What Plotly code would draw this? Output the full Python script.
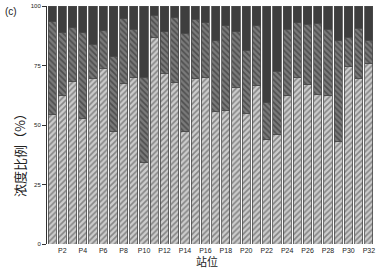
import plotly.graph_objects as go

stations = [f"P{i}" for i in range(1, 33)]
tick_labels = [f"P{i}" for i in range(2, 33, 2)]

light = [54.4, 62.4, 68.2, 52.9, 69.4, 73.7, 47.3, 67.5, 69.9, 34.4, 86.7, 71.5, 68.0, 47.3, 69.7, 69.8,
         55.6, 56.1, 65.7, 54.7, 66.6, 44.1, 46.2, 62.4, 69.9, 67.1, 62.7, 62.4, 43.2, 74.5, 69.7, 75.9]
middle = [39.0, 26.4, 22.7, 35.9, 14.5, 15.8, 31.4, 27.2, 20.3, 35.7, 9.5, 17.6, 27.1, 41.2, 24.7, 23.2,
          29.8, 35.6, 23.5, 26.8, 25.0, 15.3, 26.4, 27.8, 23.1, 25.2, 30.0, 27.9, 42.2, 12.4, 20.9, 9.8]
top = [round(100 - a - b, 1) for a, b in zip(light, middle)]

line = dict(color="#4a4a4a", width=0.8)

fig = go.Figure()
fig.add_trace(go.Bar(
    x=stations, y=light,
    marker=dict(color="#c8c8c8", line=line,
                pattern=dict(shape="/", fgcolor="#858585", bgcolor="#cccccc", size=4, solidity=0.4,
                             fillmode="replace")),
    showlegend=False))
fig.add_trace(go.Bar(
    x=stations, y=middle,
    marker=dict(color="#777777", line=line,
                pattern=dict(shape="\\", fgcolor="#4e4e4e", bgcolor="#7a7a7a", size=4, solidity=0.4,
                             fillmode="replace")),
    showlegend=False))
fig.add_trace(go.Bar(
    x=stations, y=top,
    marker=dict(color="#3e3e3e", line=line),
    showlegend=False))

W, H = 376, 270
l, r, t, b = 47, 2, 6, 26

fig.update_layout(
    barmode="stack",
    bargap=0.2,
    width=W, height=H,
    margin=dict(l=l, r=r, t=t, b=b),
    paper_bgcolor="white", plot_bgcolor="white",
    font=dict(family="Liberation Sans, Arial, sans-serif", color="#222"),
)
fig.update_xaxes(
    tickmode="array", tickvals=tick_labels, ticktext=tick_labels,
    tickfont=dict(size=7, color="#222"), ticks="", showline=False, showgrid=False,
    ticklabelstandoff=1,
)
fig.update_yaxes(
    range=[0, 100], tickvals=[0, 25, 50, 75, 100],
    tickfont=dict(size=6, color="#222"), ticks="outside", ticklen=4, tickcolor="#333",
    showline=True, linecolor="#333", linewidth=1, showgrid=False, zeroline=False,
)

pw, ph = W - l - r, H - t - b


def px2paper(px, py):
    return (px - l) / pw, 1 - (py - t) / ph


for text, (px, py), font, ang in [
    ("浓度比例（%）", (19, 152), dict(family="Noto Sans CJK SC", size=13, color="#222"), -90),
    ("站位", (207, 261), dict(family="Noto Sans CJK SC", size=11, color="#222"), 0),
    ("(c)", (11, 11), dict(family="Liberation Sans", size=10, color="#222"), 0),
]:
    x, y = px2paper(px, py)
    fig.add_annotation(text=text, x=x, y=y, xref="paper", yref="paper",
                       xanchor="center", yanchor="middle",
                       textangle=ang, showarrow=False, font=font)

fig.write_html("out.html", config={"displayModeBar": False},
               post_script="document.body.style.margin='0px';")
